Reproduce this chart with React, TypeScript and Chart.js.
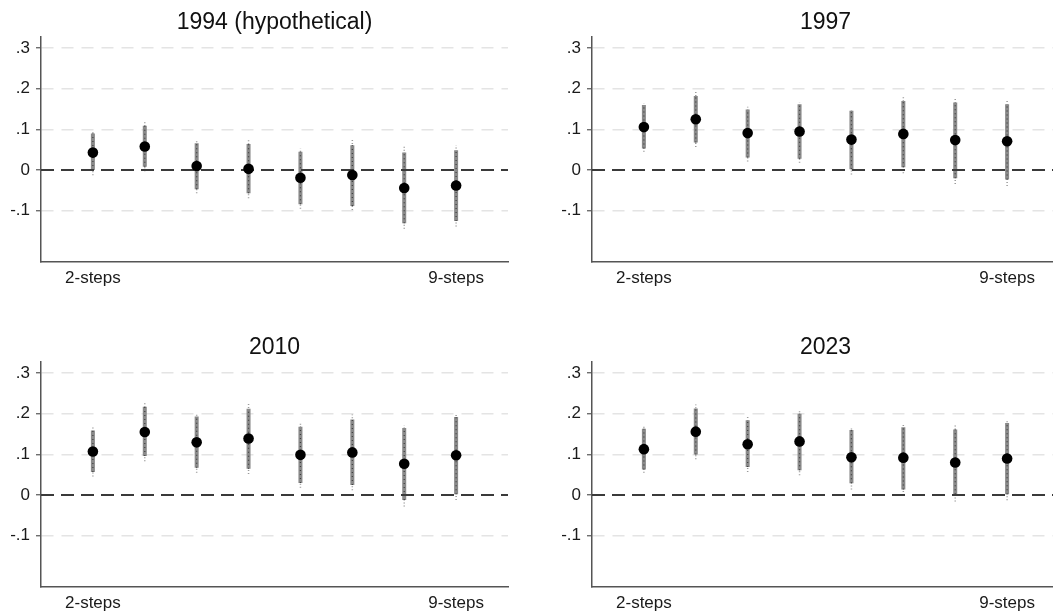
import React, { useEffect, useRef } from 'react';
import { Chart, registerables } from 'chart.js';

Chart.register(...registerables);

// ---- data ----
const steps = [2, 3, 4, 5, 6, 7, 8, 9];
const xTickValues = [2, 9];
const xTickLabels = ['2-steps', '9-steps'];
const yTickValues = [-0.1, 0, 0.1, 0.2, 0.3];
const yTickLabels = ['-.1', '0', '.1', '.2', '.3'];

const est94 = [0.043, 0.058, 0.010, 0.003, -0.019, -0.012, -0.044, -0.038];
const lo90_94 = [0.000, 0.008, -0.047, -0.057, -0.084, -0.088, -0.131, -0.125];
const hi90_94 = [0.090, 0.109, 0.066, 0.064, 0.045, 0.061, 0.043, 0.049];
const lo95_94 = [-0.013, -0.003, -0.057, -0.069, -0.095, -0.098, -0.144, -0.139];
const hi95_94 = [0.096, 0.119, 0.076, 0.075, 0.053, 0.074, 0.058, 0.061];

const est97 = [0.106, 0.125, 0.091, 0.095, 0.075, 0.089, 0.074, 0.071];
const lo90_97 = [0.053, 0.068, 0.031, 0.028, 0.002, 0.007, -0.020, -0.023];
const hi90_97 = [0.160, 0.182, 0.149, 0.162, 0.146, 0.170, 0.166, 0.162];
const lo95_97 = [0.045, 0.057, 0.021, 0.018, -0.011, -0.008, -0.034, -0.039];
const hi95_97 = [0.164, 0.193, 0.156, 0.166, 0.151, 0.182, 0.180, 0.175];

const est10 = [0.107, 0.155, 0.130, 0.139, 0.099, 0.105, 0.077, 0.098];
const lo90_10 = [0.057, 0.096, 0.067, 0.065, 0.030, 0.025, -0.012, 0.002];
const hi90_10 = [0.159, 0.217, 0.193, 0.212, 0.168, 0.186, 0.165, 0.192];
const lo95_10 = [0.046, 0.083, 0.055, 0.052, 0.018, 0.012, -0.028, -0.012];
const hi95_10 = [0.168, 0.227, 0.202, 0.225, 0.180, 0.198, 0.172, 0.198];

const est23 = [0.113, 0.156, 0.125, 0.132, 0.093, 0.092, 0.080, 0.090];
const lo90_23 = [0.063, 0.100, 0.069, 0.061, 0.029, 0.014, 0.002, 0.002];
const hi90_23 = [0.163, 0.213, 0.184, 0.200, 0.160, 0.167, 0.161, 0.177];
const lo95_23 = [0.055, 0.088, 0.057, 0.049, 0.014, 0.000, -0.016, -0.013];
const hi95_23 = [0.172, 0.223, 0.192, 0.210, 0.166, 0.176, 0.171, 0.186];

const X_MIN = 1;
const X_MAX = 10;
const Y_MIN = -0.226;
const Y_MAX = 0.327;

const FONT = '"Liberation Sans", Arial, sans-serif';

type PanelProps = {
  title: string;
  est: number[];
  lo90: number[];
  hi90: number[];
  lo95: number[];
  hi95: number[];
  left: number;
  top: number;
};

function segs(lo: number[], hi: number[]) {
  const out: { x: number; y: number | null }[] = [];
  steps.forEach((s, i) => {
    out.push({ x: s, y: lo[i] }, { x: s, y: hi[i] }, { x: s, y: null });
  });
  return out;
}

function Panel({ title, est, lo90, hi90, lo95, hi95, left, top }: PanelProps) {
  const ref = useRef<HTMLCanvasElement | null>(null);
  useEffect(() => {
    if (!ref.current) return;
    const bars90 = segs(lo90, hi90);
    const bars95 = segs(lo95, hi95);
    const chart = new Chart(ref.current, {
      type: 'line',
      data: {
        datasets: [
          {
            label: 'estimate',
            data: steps.map((s, i) => ({ x: s, y: est[i] })),
            showLine: false,
            pointRadius: 5.3,
            pointBackgroundColor: '#000',
            pointBorderColor: '#000',
            pointBorderWidth: 0,
          } as any,
          {
            label: 'zero',
            data: [
              { x: X_MIN, y: 0 },
              { x: X_MAX, y: 0 },
            ],
            borderColor: '#3a3a3a',
            borderWidth: 2,
            borderDash: [13, 7],
            pointRadius: 0,
          },
          {
            label: 'ci90 texture',
            data: bars90,
            borderColor: '#3e3e3e',
            borderWidth: 1.2,
            borderDash: [1, 3],
            pointRadius: 0,
            spanGaps: false,
          },
          {
            label: 'ci90',
            data: bars90,
            borderColor: '#8a8a8a',
            borderWidth: 4,
            pointRadius: 0,
            spanGaps: false,
            borderCapStyle: 'butt',
          },
          {
            label: 'ci95',
            data: bars95,
            borderColor: '#9a9a9a',
            borderWidth: 1.5,
            borderDash: [1, 2],
            pointRadius: 0,
            spanGaps: false,
          },
        ],
      },
      options: {
        responsive: false,
        animation: false,
        events: [],
        layout: { padding: { left: 0, right: 12, top: 0, bottom: 0 } },
        plugins: {
          legend: { display: false },
          tooltip: { enabled: false },
          title: {
            display: true,
            text: title,
            fullSize: false,
            color: '#111',
            font: { family: FONT, size: 23, weight: 'normal', lineHeight: 1.2 },
            padding: { top: 8.5, bottom: 1 },
          },
        },
        scales: {
          x: {
            type: 'linear',
            min: X_MIN,
            max: X_MAX,
            afterBuildTicks: (s: any) => {
              s.ticks = xTickValues.map((v) => ({ value: v }));
            },
            afterFit: (s: any) => {
              s.height = 38;
            },
            grid: { display: false },
            border: { display: true, color: '#555', width: 1.5 },
            ticks: {
              padding: -2,
              autoSkip: false,
              maxRotation: 0,
              color: '#1a1a1a',
              font: { family: FONT, size: 17 },
              callback: (v: any) => {
                const i = xTickValues.indexOf(Number(v));
                return i >= 0 ? xTickLabels[i] : '';
              },
            },
          },
          y: {
            type: 'linear',
            min: Y_MIN,
            max: Y_MAX,
            afterBuildTicks: (s: any) => {
              s.ticks = yTickValues.map((v) => ({ value: v }));
            },
            afterFit: (s: any) => {
              s.width = 41;
            },
            grid: {
              color: (ctx: any) =>
                ctx.tick && Math.abs(ctx.tick.value) < 1e-9 ? 'rgba(0,0,0,0)' : '#e4e4e4',
              lineWidth: 1.5,
              tickColor: '#555',
              tickLength: 5,
              tickWidth: 1.2,
            },
            border: { display: true, color: '#555', width: 1.5, dash: [12, 8] },
            ticks: {
              padding: 6,
              autoSkip: false,
              color: '#1a1a1a',
              font: { family: FONT, size: 17 },
              callback: (v: any) => {
                const i = yTickValues.findIndex((t) => Math.abs(t - Number(v)) < 1e-9);
                return i >= 0 ? yTickLabels[i] : '';
              },
            },
          },
        },
      },
    });
    return () => chart.destroy();
  }, []);
  return (
    <canvas
      ref={ref}
      width={520}
      height={300}
      style={{ position: 'absolute', left, top, width: 520, height: 300, display: 'block' }}
    />
  );
}

export default function App() {
  return (
    <div
      style={{
        position: 'fixed',
        left: 0,
        top: 0,
        width: 1053,
        height: 613,
        overflow: 'hidden',
        background: '#fff',
      }}
    >
      <Panel title="1994 (hypothetical)" est={est94} lo90={lo90_94} hi90={hi90_94} lo95={lo95_94} hi95={hi95_94} left={0} top={0} />
      <Panel title="1997" est={est97} lo90={lo90_97} hi90={hi90_97} lo95={lo95_97} hi95={hi95_97} left={551} top={0} />
      <Panel title="2010" est={est10} lo90={lo90_10} hi90={hi90_10} lo95={lo95_10} hi95={hi95_10} left={0} top={325} />
      <Panel title="2023" est={est23} lo90={lo90_23} hi90={hi90_23} lo95={lo95_23} hi95={hi95_23} left={551} top={325} />
    </div>
  );
}
